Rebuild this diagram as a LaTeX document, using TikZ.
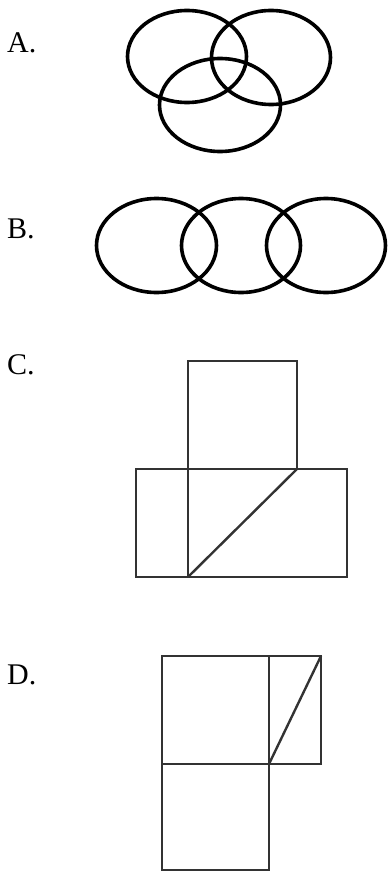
\documentclass[tikz,border=0pt]{standalone}
\usepackage{fontspec}
\setmainfont{Liberation Serif}
\begin{document}
\begin{tikzpicture}[x=1pt,y=-1pt,
  ring/.style={line width=3.6pt,black},
  edge/.style={line width=2.4pt,draw=black!80,line join=miter},
  lbl/.style={anchor=base west,inner sep=0pt,font=\fontsize{30}{36}\selectfont}]
\useasboundingbox (0,0) rectangle (388,872);
% labels
\node[lbl] (la) at (7,53) {A.};
\node[lbl] (lb) at (7,238) {B.};
\node[lbl] (lc) at (7,374) {C.};
\node[lbl] (ld) at (7,684) {D.};
% A
\draw[ring] (187,56.5) ellipse [x radius=59.5,y radius=46];
\draw[ring] (271,57.5) ellipse [x radius=59.5,y radius=47];
\draw[ring] (220,105) ellipse [x radius=60.5,y radius=46.5];
% B
\draw[ring] (156.5,245.5) ellipse [x radius=60,y radius=47];
\draw[ring] (241,245.5) ellipse [x radius=59.5,y radius=47];
\draw[ring] (326,245.5) ellipse [x radius=59.5,y radius=47];
% C
\draw[edge] (188,361) rectangle (297,469);
\draw[edge] (136,469) rectangle (347,577);
\draw[edge] (188,469) -- (188,577);
\draw[edge] (297,469) -- (188,577);
% D
\draw[edge] (162,656) rectangle (269,764);
\draw[edge] (269,656) rectangle (321,764);
\draw[edge] (269,764) -- (321,656);
\draw[edge] (162,764) rectangle (269,870);
\end{tikzpicture}
\end{document}
